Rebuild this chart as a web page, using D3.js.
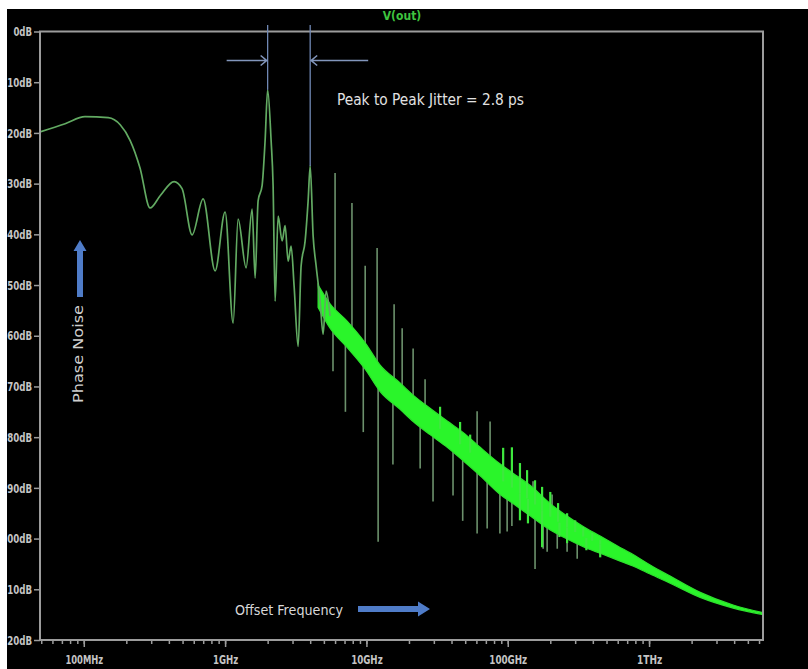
<!DOCTYPE html>
<html lang="en">
<head>
<meta charset="UTF-8">
<title>V(out) phase noise</title>
<script src="https://cdn.jsdelivr.net/npm/d3@7"></script>
<style>
  html, body { margin: 0; padding: 0; background: #fff; }
  svg { display: block; }
  .lbl { font-family: 'Liberation Sans Narrow', 'DejaVu Sans Condensed', 'Liberation Sans', sans-serif; }
</style>
</head>
<body>
<div class="chart"></div>
<script>
  // main trace, low offsets up to the second carrier (GHz, dB)
  const traceF = [0.0491, 0.0738, 0.102, 0.149, 0.181, 0.213, 0.25, 0.2945, 0.347, 0.4355, 0.496, 0.584, 0.699, 0.85, 1.0, 1.14, 1.236, 1.408, 1.553, 1.631, 1.712, 1.827, 1.919, 2.0, 2.116, 2.186, 2.259, 2.372, 2.532, 2.658, 2.792, 2.932, 3.078, 3.286, 3.451, 3.684, 3.868, 4.0, 4.196, 4.406, 4.703, 4.938, 5.186, 5.53]
  const traceDb = [-19.8, -18.2, -16.8, -17.0, -18.4, -21.5, -26.9, -34.8, -32.4, -29.6, -31.0, -40.1, -33.0, -47.2, -35.6, -57.5, -37.0, -46.6, -35.0, -48.6, -33.4, -30.4, -21.5, -11.5, -21.5, -30.4, -53.2, -36.4, -41.3, -38.3, -45.3, -42.3, -50.2, -62.1, -46.2, -41.3, -33.4, -26.5, -40.3, -46.2, -53.2, -59.7, -51.2, -56.1]

  // dense noisy part: centre of the band and its half thickness (dB)
  const bandF = [4.55, 5.53, 7.3, 9.8, 12.5, 17.3, 21.4, 28.2, 37.3, 50, 63.8, 88.4, 109, 144, 200, 255, 342, 451, 594, 798, 1018, 1410, 2300, 3935, 6415]
  const bandDb = [-52.2, -56.1, -59.7, -64.0, -68.4, -71.9, -74.3, -76.9, -79.4, -82.2, -84.8, -88.3, -90.1, -92.5, -95.7, -97.6, -99.6, -101.2, -102.8, -104.5, -106.1, -108.1, -111.1, -113.4, -114.8]
  const bandHalf = [2.2, 2.4, 2.6, 2.6, 2.6, 2.6, 2.6, 2.6, 2.6, 2.8, 2.8, 3.0, 3.0, 3.0, 2.6, 2.3, 2.0, 1.7, 1.4, 1.1, 0.9, 0.7, 0.5, 0.3, 0.2]

  // spurs sticking out of the band
  const spikeUpF = [6.0, 7.9, 9.8, 11.9, 15.7, 17.9, 21.4, 26, 60.7, 75, 92.7, 107, 151, 206]
  const spikeUpDb = [-27.9, -33.8, -46.2, -42.7, -53.8, -58.5, -62.5, -68.6, -74.9, -76.9, -82.8, -82.8, -88.7, -91.3]
  const spikeDownF = [5.8, 7.1, 9.5, 12.1, 15.4, 24, 29.6, 41, 48, 60.7, 71.5, 88, 99, 107, 156, 178, 190, 224, 263, 310]
  const spikeDownDb = [-67, -75, -79, -100.6, -85.4, -86.2, -92.7, -91.5, -96.5, -99, -98, -99, -98.6, -97.5, -106, -102, -102.6, -102, -102.6, -104]

  // short ragged edges of the band
  const fuzzF = [33.2, 46, 54.2, 92.8, 107, 122, 137, 156, 175, 200, 227, 263, 300, 342, 396, 451, 122, 139, 175, 232, 263, 360, 451]
  const fuzzDb = [-74, -77, -79.5, -82.1, -82.0, -85.1, -86.5, -88.5, -89.8, -90.8, -93.0, -95.0, -96.4, -97.7, -98.9, -100.3, -96.4, -97, -101.7, -99.7, -100.9, -102.3, -103.7]

  const yTicks = [0, -10, -20, -30, -40, -50, -60, -70, -80, -90, -100, -110, -120]
  const yTickLabels = ['0dB', '10dB', '20dB', '30dB', '40dB', '50dB', '60dB', '70dB', '80dB', '90dB', '00dB', '10dB', '20dB']
  const xMajor = [0.1, 1, 10, 100, 1000]
  const xMajorLabels = ['100MHz', '1GHz', '10GHz', '100GHz', '1THz']
  const jitterMarks = [2.0, 4.0]   // GHz, the two carriers

  const width = 808
  const height = 669
  const plot = { left: 40, top: 31.5, right: 763, bottom: 640 }

  const svg = d3.select('.chart').append('svg')
    .attr('width', width)
    .attr('height', height)

  svg.append('rect')
    .attr('x', 7).attr('y', 9)
    .attr('width', width - 7).attr('height', height - 9)
    .attr('fill', '#000')

  const x = d3.scaleLog().domain([0.049, 6400]).range([plot.left, plot.right])
  const y = d3.scaleLinear().domain([0, -120]).range([plot.top, plot.bottom])

  svg.append('clipPath').attr('id', 'plotclip')
    .append('rect')
    .attr('x', plot.left).attr('y', plot.top)
    .attr('width', plot.right - plot.left).attr('height', plot.bottom - plot.top)

  const g = svg.append('g').attr('clip-path', 'url(#plotclip)')

  // band centre as a function of frequency, used as the foot of each spur
  const bandAt = d3.scaleLog().domain(bandF).range(bandDb).clamp(true)

  const band = bandF.map((f, i) => ({ f, db: bandDb[i], w: bandHalf[i] }))
  const area = d3.area()
    .x(d => x(d.f))
    .y0(d => y(d.db - d.w))
    .y1(d => y(d.db + d.w))
    .curve(d3.curveMonotoneX)

  const spikes = spikeUpF.map((f, i) => ({ f, db: spikeUpDb[i] }))
    .concat(spikeDownF.map((f, i) => ({ f, db: spikeDownDb[i] })))
  const fuzz = fuzzF.map((f, i) => ({ f, db: fuzzDb[i] }))

  g.selectAll('.spur')
    .data(spikes)
    .enter().append('line')
    .attr('class', 'spur')
    .attr('x1', d => x(d.f)).attr('x2', d => x(d.f))
    .attr('y1', d => y(bandAt(d.f)))
    .attr('y2', d => y(d.db))
    .attr('stroke', '#7fab7f')
    .attr('stroke-width', 1.6)
    .attr('opacity', 0.85)

  g.append('path')
    .datum(band)
    .attr('d', area)
    .attr('fill', '#2af52a')
    .attr('stroke', '#2ee02e')
    .attr('stroke-width', 1.2)

  g.selectAll('.fuzz')
    .data(fuzz)
    .enter().append('line')
    .attr('class', 'fuzz')
    .attr('x1', d => x(d.f)).attr('x2', d => x(d.f))
    .attr('y1', d => y(bandAt(d.f)))
    .attr('y2', d => y(d.db))
    .attr('stroke', '#3ee83e')
    .attr('stroke-width', 2.2)

  const trace = traceF.map((f, i) => ({ f, db: traceDb[i] }))
  g.append('path')
    .datum(trace)
    .attr('d', d3.line().x(d => x(d.f)).y(d => y(d.db)).curve(d3.curveMonotoneX))
    .attr('fill', 'none')
    .attr('stroke', '#62aa62')
    .attr('stroke-width', 1.7)

  // frame
  svg.append('rect')
    .attr('x', plot.left).attr('y', plot.top)
    .attr('width', plot.right - plot.left).attr('height', plot.bottom - plot.top)
    .attr('fill', 'none')
    .attr('stroke', '#9c9c9c')
    .attr('stroke-width', 2)

  function styleAxis(sel) {
    sel.select('.domain').remove()
    sel.selectAll('.tick line').attr('stroke', '#9c9c9c').attr('stroke-width', 1.5)
    sel.selectAll('.tick text')
      .attr('class', 'lbl')
      .attr('fill', '#c4c4c4')
      .attr('font-weight', 'bold')
      .attr('lengthAdjust', 'spacingAndGlyphs')
  }

  svg.append('g')
    .attr('transform', `translate(${plot.left},0)`)
    .call(d3.axisLeft(y).tickValues(yTicks).tickFormat((d, i) => yTickLabels[i]).tickSize(6).tickPadding(2))
    .call(styleAxis)
    .selectAll('text')
    .attr('font-size', 13)
    .attr('textLength', (d, i) => yTickLabels[i].length * 6.2)

  svg.append('g')
    .attr('transform', `translate(0,${plot.bottom})`)
    .call(d3.axisBottom(x).tickValues(x.ticks()).tickFormat('').tickSize(4))
    .call(styleAxis)

  svg.append('g')
    .attr('transform', `translate(0,${plot.bottom})`)
    .call(d3.axisBottom(x).tickValues(xMajor).tickFormat((d, i) => xMajorLabels[i]).tickSize(7).tickPadding(8))
    .call(styleAxis)
    .selectAll('text')
    .attr('font-size', 12)
    .attr('textLength', (d, i) => xMajorLabels[i].length * 6.3)

  // title
  svg.append('text')
    .attr('class', 'lbl')
    .attr('x', 402).attr('y', 20)
    .attr('text-anchor', 'middle')
    .attr('fill', '#3fc43f')
    .attr('font-size', 12)
    .attr('font-weight', 'bold')
    .text('V(out)')

  // jitter markers
  const markTop = 25
  const arrowY = 60.5
  svg.selectAll('.mark')
    .data(jitterMarks)
    .enter().append('line')
    .attr('class', 'mark')
    .attr('x1', d => x(d)).attr('x2', d => x(d))
    .attr('y1', markTop)
    .attr('y2', d => y(traceDb[traceF.indexOf(d)]))
    .attr('stroke', '#7088b4')
    .attr('stroke-width', 1.3)

  const arrowColor = '#8296bc'
  const x0 = x(jitterMarks[0])
  const x1 = x(jitterMarks[1])
  svg.append('path')
    .attr('d', `M${x0 - 41},${arrowY}H${x0 - 1}M${x0 - 7},${arrowY - 5}L${x0 - 1},${arrowY}L${x0 - 7},${arrowY + 5}`)
    .attr('fill', 'none').attr('stroke', arrowColor).attr('stroke-width', 1.6)
  svg.append('path')
    .attr('d', `M${x1 + 58},${arrowY}H${x1 + 1}M${x1 + 7},${arrowY - 5}L${x1 + 1},${arrowY}L${x1 + 7},${arrowY + 5}`)
    .attr('fill', 'none').attr('stroke', arrowColor).attr('stroke-width', 1.6)

  svg.append('text')
    .attr('class', 'lbl')
    .attr('x', 337).attr('y', 105)
    .attr('fill', '#e2e2e2')
    .attr('font-size', 16)
    .attr('textLength', 187)
    .attr('lengthAdjust', 'spacingAndGlyphs')
    .text('Peak to Peak Jitter = 2.8 ps')

  // axis captions with block arrows
  const blue = '#4f7cc8'
  svg.append('text')
    .attr('class', 'lbl')
    .attr('transform', 'translate(83,354) rotate(-90)')
    .attr('text-anchor', 'middle')
    .attr('fill', '#cfcfcf')
    .attr('font-size', 14)
    .attr('textLength', 98)
    .attr('lengthAdjust', 'spacingAndGlyphs')
    .text('Phase Noise')

  svg.append('path')
    .attr('d', 'M77,297V251H73.5L80,240L86.5,251H83V297Z')
    .attr('fill', blue)

  svg.append('text')
    .attr('class', 'lbl')
    .attr('x', 235).attr('y', 615)
    .attr('fill', '#d8d8d8')
    .attr('font-size', 14)
    .attr('textLength', 108)
    .attr('lengthAdjust', 'spacingAndGlyphs')
    .text('Offset Frequency')

  svg.append('path')
    .attr('d', 'M358,606H418V601.5L430,609L418,616.5V612H358Z')
    .attr('fill', blue)
</script>
</body>
</html>
